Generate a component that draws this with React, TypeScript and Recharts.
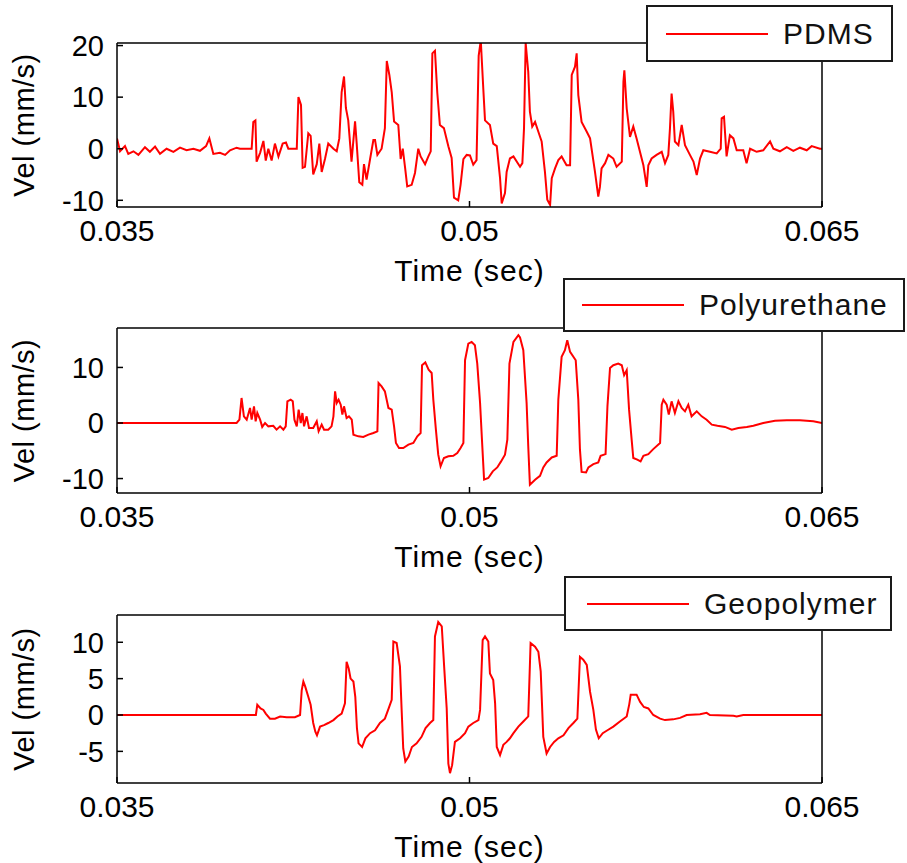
import React from "react";
import { Legend, Line, LineChart, XAxis, YAxis } from "recharts";

// time in ms, velocity in mm/s
const pdmsTime = [
  35.0, 35.13, 35.34, 35.48, 35.7, 35.91, 36.19, 36.4, 36.62, 36.83, 37.11, 37.4, 37.68, 37.96, 38.25,
  38.53, 38.79, 38.93, 39.1, 39.38, 39.6, 39.81, 40.09, 40.23, 40.73, 40.8, 40.89, 40.94, 41.09, 41.23,
  41.33, 41.44, 41.58, 41.72, 41.87, 42.05, 42.19, 42.29, 42.5, 42.65, 42.72, 42.83, 42.9, 43.0, 43.14,
  43.24, 43.35, 43.5, 43.61, 43.71, 43.85, 43.99, 44.21, 44.35, 44.46, 44.56, 44.66, 44.74, 44.84, 44.98,
  45.13, 45.2, 45.31, 45.44, 45.51, 45.62, 45.77, 45.91, 45.98, 46.08, 46.26, 46.4, 46.48, 46.59, 46.69,
  46.79, 46.97, 47.07, 47.16, 47.26, 47.35, 47.54, 47.68, 47.82, 47.92, 48.11, 48.25, 48.35, 48.42, 48.53,
  48.63, 48.74, 48.91, 49.1, 49.24, 49.34, 49.52, 49.62, 49.74, 49.88, 50.02, 50.16, 50.3, 50.39, 50.48,
  50.59, 50.66, 50.87, 51.01, 51.16, 51.3, 51.37, 51.51, 51.58, 51.72, 51.87, 52.15, 52.25, 52.32, 52.39,
  52.5, 52.57, 52.67, 52.79, 52.93, 53.07, 53.21, 53.31, 53.43, 53.5, 53.64, 53.78, 53.92, 54.13, 54.28,
  54.35, 54.49, 54.56, 54.63, 54.77, 54.99, 55.13, 55.34, 55.48, 55.55, 55.62, 55.77, 55.91, 56.12, 56.26,
  56.48, 56.55, 56.59, 56.69, 56.83, 56.97, 57.11, 57.4, 57.54, 57.61, 57.75, 57.96, 58.18, 58.32, 58.46,
  58.53, 58.6, 58.67, 58.74, 58.89, 59.03, 59.17, 59.38, 59.53, 59.67, 59.81, 59.95, 60.23, 60.52, 60.69,
  60.73, 60.83, 60.94, 61.08, 61.23, 61.37, 61.65, 61.79, 61.94, 62.22, 62.5, 62.79, 62.93, 63.21, 63.5,
  63.78, 64.06, 64.35, 64.56, 64.91, 65.0,
];
const pdmsVel = [
  2.0, -0.5, 0.5, -1, -0.5, -1.2, 0.3, -0.6, 0.4, -1, 0, -0.6, 0.2, -0.3, 0,
  -0.4, 0.5, 2.0, -1, -0.8, -1.2, -0.3, 0.2, 0, 0, 5.2, 5.5, -2.5, -0.8, 1.5,
  -2.3, 0, -2.3, 1, -1.5, 1, 1.2, 0, 0, 0, 10, 8.5, -3.7, -3.5, 3,
  2.5, -5, -3, 1, -4.5, -2, 1, 0, -0.5, 2, 11, 14, 7.9, 5.5, -2.5,
  5.3, 1, -6.5, -7, -3, -6, -2, 1.7, 1.7, -1.2, 0, 4, 17, 14.3, 11,
  5.3, 4.6, -2, 0, -3.7, -7.3, -7, -4.7, 0, -1.5, -3, -1.5, -0.5, 18.5, 19,
  10.8, 4.6, 4, 0.5, -1.8, -9.5, -10, -7, -2, -1.2, -1.3, -3.1, -2.2, 18, 21,
  11.4, 5.5, 4.6, 1, 0.5, -5.7, -10.6, -8.6, -4.5, -1.9, -1.5, -3.5, -2.8, 4, 20.5,
  14.9, 7.2, 4.3, 5.2, 3.3, 1.4, -4.5, -9.9, -10.9, -5.7, -3.8, -2.2, -1.5, -3.2, -3.2,
  14.3, 15.9, 18.5, 10.4, 5.2, 3.3, 2, -4.5, -9.3, -7.4, -3.8, -2.8, -1.2, -1.9, -3.5,
  -2.5, 13, 15.2, 7.8, 2.3, 4.3, 2, -3.2, -7.4, -3.2, -1.9, -1.2, -0.6, -2.8, -1.2,
  3.9, 10.7, 7.2, 1.4, 0.7, 4.6, 0.7, -1.2, -2.5, -5.1, -1.9, -0.3, -0.6, -0.9, 0,
  5.9, 6.2, -1.5, 2.6, 2, -0.3, -0.3, -2.8, 0, -0.6, -0.3, 1.4, 0, -0.5, 0.3,
  -0.4, 0.2, -0.3, 0.5, 0, 0,
];

const puTime = [
  35.0, 40.09, 40.21, 40.3, 40.4, 40.52, 40.66, 40.73, 40.83, 40.9, 40.97, 41.09, 41.18, 41.3, 41.44,
  41.65, 41.79, 41.94, 42.08, 42.18, 42.25, 42.39, 42.48, 42.55, 42.65, 42.73, 42.82, 42.89, 42.96, 43.07,
  43.17, 43.35, 43.5, 43.58, 43.71, 43.81, 43.99, 44.13, 44.21, 44.28, 44.35, 44.43, 44.52, 44.59, 44.66,
  44.77, 44.87, 44.99, 45.06, 45.27, 45.48, 45.7, 45.91, 46.08, 46.13, 46.26, 46.4, 46.55, 46.69, 46.79,
  46.87, 47.0, 47.18, 47.4, 47.61, 47.78, 47.92, 47.98, 48.12, 48.26, 48.39, 48.46, 48.57, 48.67, 48.77,
  48.91, 49.1, 49.31, 49.48, 49.62, 49.74, 49.81, 49.95, 50.09, 50.23, 50.33, 50.45, 50.53, 50.62, 50.8,
  50.99, 51.18, 51.33, 51.51, 51.61, 51.7, 51.87, 52.08, 52.15, 52.29, 52.43, 52.5, 52.57, 52.79, 53.0,
  53.14, 53.28, 53.5, 53.71, 53.78, 53.92, 54.06, 54.16, 54.28, 54.52, 54.63, 54.7, 54.77, 54.96, 55.06,
  55.27, 55.48, 55.58, 55.79, 55.87, 55.98, 56.12, 56.33, 56.48, 56.58, 56.69, 56.79, 56.9, 56.97, 57.14,
  57.28, 57.4, 57.61, 57.82, 58.11, 58.18, 58.25, 58.39, 58.48, 58.6, 58.74, 58.89, 59.03, 59.17, 59.31,
  59.45, 59.67, 59.88, 60.09, 60.31, 60.55, 60.87, 61.16, 61.44, 61.8, 62.08, 62.5, 63.0, 63.5, 64.06,
  64.63, 65.0,
];
const puVel = [
  0, 0, 0.6, 4.5, 1.2, 0.6, 2.7, 0.6, 3, 0.3, 1.8, 0.6, -0.7, 0, -0.6,
  -0.5, -1.2, -0.6, -1.2, -0.6, 3.9, 4.2, 3.9, 0.6, -0.6, 2.4, 0, 1.8, -0.6, 1.2,
  -0.9, -0.9, 0.3, -1.5, -0.3, -1.2, -1.2, -0.6, 1.2, 5.7, 3.6, 4.2, 3.3, 1.5, 3,
  0.9, 1.2, 0.6, -2.1, -2.4, -2.5, -2.1, -1.8, -1.5, 7.2, 6.6, 5.7, 2.7, 2.4, -0.6,
  -3.6, -4.5, -4.5, -3.9, -3.6, -2.4, -1.8, 10.4, 10.9, 9.6, 9, 4.2, -1.2, -5.7, -7.8,
  -6.3, -6, -5.9, -5.4, -4.5, -3.6, 11.3, 14.3, 14.6, 14, 10.7, 3.6, -3, -10.2, -9.9,
  -8.7, -8, -7, -5.7, -3, 10.7, 14.6, 15.8, 15.4, 13.1, 3.6, -4.2, -11.1, -10.2, -9.5,
  -8, -7.1, -6.2, -5.9, 4.2, 11.9, 13.1, 14.9, 12.8, 11.3, 4.2, -4.8, -8.8, -8.9, -8,
  -7.4, -7.1, -5.9, -5.6, 3, 9.9, 10.4, 10.7, 10.4, 8.6, 9.5, 2.4, -3, -6.3, -6.6,
  -6.9, -5.9, -5.6, -4.7, -3.6, 3.3, 4.2, 3.3, 1.5, 3.9, 1.8, 3.9, 2.7, 2.1, 3.3,
  1.2, 2.1, 1.2, 0.6, -0.3, -0.5, -0.7, -1.2, -0.9, -0.7, -0.5, 0, 0.4, 0.5, 0.5,
  0.3, 0,
];

const geoTime = [
  35.0, 40.91, 40.97, 41.11, 41.23, 41.33, 41.51, 41.72, 41.94, 42.22, 42.57, 42.79, 42.86, 42.93, 43.01,
  43.14, 43.24, 43.35, 43.44, 43.51, 43.64, 43.81, 43.99, 44.21, 44.38, 44.56, 44.7, 44.77, 44.86, 44.94,
  45.06, 45.14, 45.21, 45.28, 45.43, 45.57, 45.77, 45.98, 46.19, 46.4, 46.56, 46.69, 46.76, 46.9, 47.04,
  47.11, 47.18, 47.27, 47.41, 47.55, 47.75, 47.96, 48.13, 48.32, 48.46, 48.53, 48.67, 48.82, 48.93, 49.03,
  49.1, 49.17, 49.26, 49.38, 49.6, 49.81, 49.95, 50.16, 50.38, 50.45, 50.56, 50.66, 50.8, 50.87, 51.01,
  51.09, 51.16, 51.3, 51.44, 51.58, 51.72, 51.87, 52.08, 52.29, 52.5, 52.6, 52.79, 52.93, 53.03, 53.14,
  53.28, 53.43, 53.6, 53.78, 54.0, 54.21, 54.42, 54.59, 54.7, 54.84, 54.99, 55.13, 55.27, 55.38, 55.5,
  55.67, 55.87, 56.12, 56.4, 56.69, 56.8, 56.86, 57.11, 57.26, 57.42, 57.61, 57.82, 58.11, 58.32, 58.67,
  58.96, 59.24, 59.81, 60.09, 60.23, 61.23, 61.37, 61.65, 65.0,
];
const geoVel = [
  0, 0, 1.4, 0.9, 0.7, 0.2, -0.5, -0.5, -0.2, -0.3, -0.3, 0, 3.4, 4.6, 3.9,
  2.5, 1.4, -1.1, -2.3, -2.8, -1.6, -1.4, -1.1, -0.7, -0.2, 0.2, 1.6, 7.3, 6.4, 5,
  4.6, 2.5, -1.8, -3.9, -4.4, -3.2, -2.5, -2.1, -1.1, -0.5, 0.9, 2.1, 10.1, 9.9, 6.7,
  0.9, -4.6, -6.4, -5.7, -4.4, -3.9, -3, -1.8, -1.1, -0.7, 10.8, 12.8, 12.2, 6.2, 0.9,
  -6.7, -8, -6.9, -3.7, -3.2, -2.5, -1.6, -1.1, -0.7, 0.7, 10.3, 10.8, 10.1, 5.7, 4.8,
  1.6, -4.4, -5.5, -4.1, -3.7, -3.2, -2.5, -1.6, -0.9, -0.2, 9.9, 9.4, 8.7, 6, -3,
  -5.3, -4.4, -3.7, -3.2, -2.8, -1.8, -1.1, -0.5, 8, 7.6, 6.9, 3.2, 0.7, -2, -3.2,
  -2.5, -2.1, -1.6, -0.9, -0.2, 1.5, 2.8, 2.8, 1.8, 1.1, 0.9, 0, -0.5, -0.7, -0.6,
  -0.4, 0, 0.1, 0.3, 0, -0.1, -0.2, 0, 0,
];

const timeTicks = [0.035, 0.05, 0.065];
const timeDomain = [0.035, 0.065];
const pdmsTicks = [-10, 0, 10, 20];
const puTicks = [-10, 0, 10];
const geoTicks = [-5, 0, 5, 10];

const FONT = '"Liberation Sans", Arial, sans-serif';

function toRows(time: number[], vel: number[]) {
  return time.map((t, i) => ({ t: t / 1000, v: vel[i] }));
}

type PanelProps = {
  name: string;
  time: number[];
  vel: number[];
  yDomain: number[];
  yTicks: number[];
  top: number;
  height: number;
  plotTop: number;
  plotBottom: number;
  legend: { left: number; top: number; width: number; height: number; lineLeft: number };
};

function LegendBox({ name, lineLeft }: { name: string; lineLeft: number }) {
  return (
    <div
      style={{
        boxSizing: "border-box",
        width: "100%",
        height: "100%",
        border: "2px solid #1a1a1a",
        background: "#fff",
        display: "flex",
        alignItems: "center",
        fontFamily: FONT,
        fontSize: 30,
        color: "#111",
      }}
    >
      <div style={{ marginLeft: lineLeft, width: 102, height: 2, background: "#ff0000" }} />
      <span style={{ marginLeft: 15, letterSpacing: 1 }}>{name}</span>
    </div>
  );
}

function Panel(p: PanelProps) {
  const data = toRows(p.time, p.vel);
  const margin = {
    top: p.plotTop - 10,
    bottom: p.height - p.plotBottom - 70,
    left: 17,
    right: 65,
  };
  const axisLine = { stroke: "#000", strokeWidth: 1.5 };
  const tickLine = { stroke: "#000", strokeWidth: 1.5 };
  return (
    <div style={{ position: "absolute", left: 0, top: p.top }}>
      <LineChart width={907} height={p.height} data={data} margin={margin}>
        <XAxis
          xAxisId="b"
          dataKey="t"
          type="number"
          domain={timeDomain}
          ticks={timeTicks}
          interval={0}
          allowDataOverflow
          height={70}
          tickSize={-6}
          tickMargin={19}
          axisLine={axisLine}
          tickLine={tickLine}
          tickFormatter={(v: number) => String(Number(v.toFixed(3)))}
          tick={{ fill: "#000", fontSize: 30, fontFamily: FONT }}
          label={{
            value: "Time (sec)",
            position: "insideTop",
            offset: 53,
            fill: "#000",
            fontSize: 30,
            fontFamily: FONT,
            style: { letterSpacing: 1 },
          }}
        />
        <XAxis
          xAxisId="t"
          orientation="top"
          dataKey="t"
          type="number"
          domain={timeDomain}
          ticks={timeTicks}
          interval={0}
          allowDataOverflow
          height={10}
          tickSize={-6}
          tick={false}
          axisLine={axisLine}
          tickLine={tickLine}
        />
        <YAxis
          yAxisId="l"
          type="number"
          domain={p.yDomain}
          ticks={p.yTicks}
          interval={0}
          allowDataOverflow
          width={100}
          tickSize={-6}
          tickMargin={19}
          axisLine={axisLine}
          tickLine={tickLine}
          tick={{ fill: "#000", fontSize: 29, fontFamily: FONT }}
          label={{
            value: "Vel (mm/s)",
            angle: -90,
            position: "insideLeft",
            offset: 7,
            fill: "#000",
            fontSize: 29,
            fontFamily: FONT,
            style: { textAnchor: "middle", letterSpacing: 0.5 },
          }}
        />
        <YAxis
          yAxisId="r"
          orientation="right"
          type="number"
          domain={p.yDomain}
          ticks={p.yTicks}
          interval={0}
          allowDataOverflow
          width={20}
          tickSize={-6}
          tick={false}
          axisLine={axisLine}
          tickLine={tickLine}
        />
        <Line
          xAxisId="b"
          yAxisId="l"
          dataKey="v"
          name={p.name}
          type="linear"
          stroke="#ff0000"
          strokeWidth={2}
          dot={false}
          isAnimationActive={false}
        />
        <Legend
          layout="vertical"
          align="center"
          verticalAlign="middle"
          wrapperStyle={{
            left: p.legend.left,
            top: p.legend.top,
            width: p.legend.width,
            height: p.legend.height,
          }}
          content={() => <LegendBox name={p.name} lineLeft={p.legend.lineLeft} />}
        />
      </LineChart>
    </div>
  );
}

export default function App() {
  return (
    <div style={{ position: "absolute", left: 0, top: 0, width: 907, height: 863, background: "#fff", overflow: "hidden" }}>
      <Panel
        name="PDMS"
        time={pdmsTime}
        vel={pdmsVel}
        yDomain={[-11.3, 20.5]}
        yTicks={pdmsTicks}
        top={0}
        height={295}
        plotTop={43}
        plotBottom={207}
        legend={{ left: 646, top: 5, width: 247, height: 57, lineLeft: 18 }}
      />
      <Panel
        name="Polyurethane"
        time={puTime}
        vel={puVel}
        yDomain={[-12.6, 17.1]}
        yTicks={puTicks}
        top={270}
        height={310}
        plotTop={58}
        plotBottom={223}
        legend={{ left: 563, top: 8, width: 342, height: 54, lineLeft: 17 }}
      />
      <Panel
        name="Geopolymer"
        time={geoTime}
        vel={geoVel}
        yDomain={[-9.35, 13.75]}
        yTicks={geoTicks}
        top={570}
        height={293}
        plotTop={45}
        plotBottom={213}
        legend={{ left: 564, top: 6, width: 328, height: 55, lineLeft: 21 }}
      />
    </div>
  );
}
